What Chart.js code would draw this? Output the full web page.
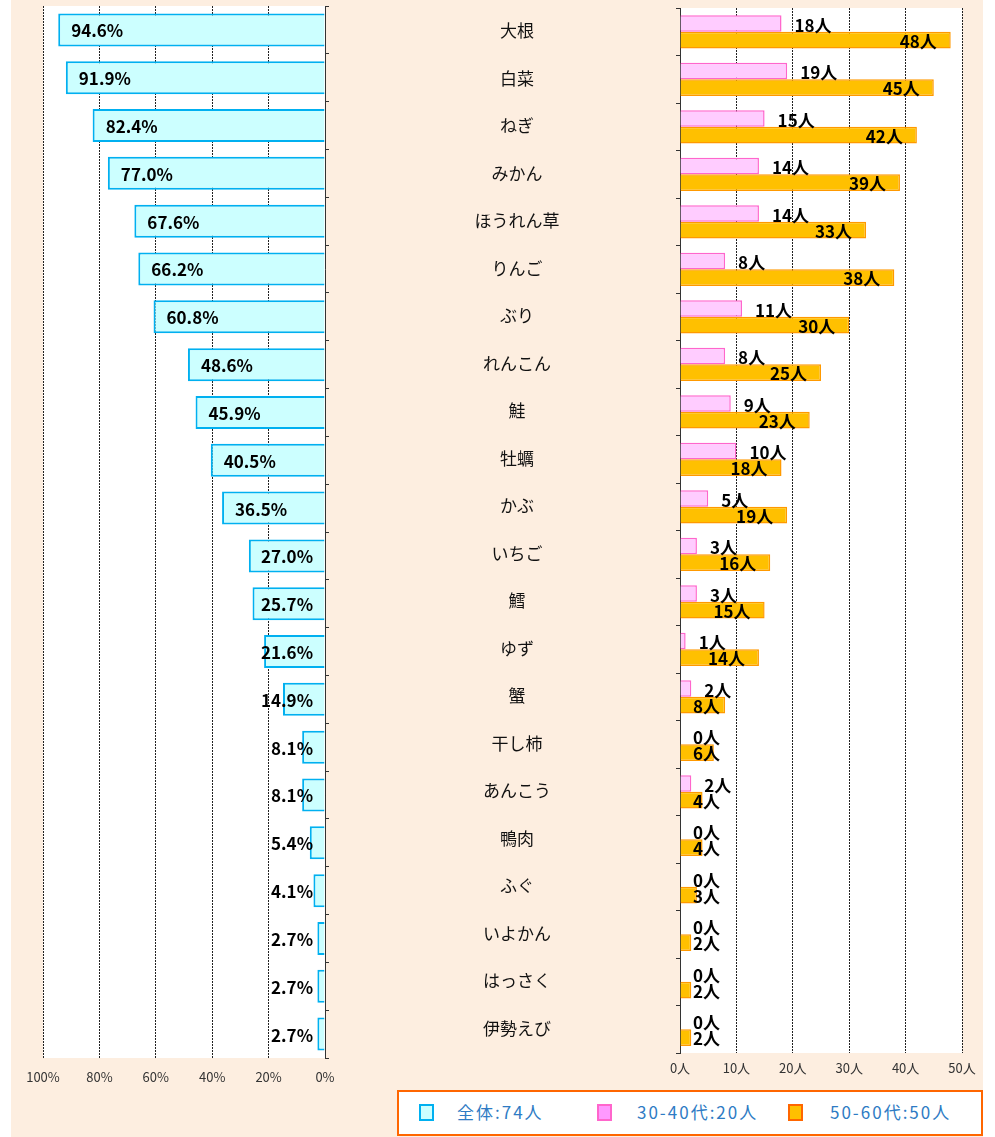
<!DOCTYPE html>
<html>
<head>
<meta charset="utf-8">
<script src="https://cdn.jsdelivr.net/npm/chart.js@4.4.1/dist/chart.umd.min.js"></script>
<style>
  body { margin: 0; background: #fff; font-family: "Noto Sans CJK JP", sans-serif; }
  #panel { position: absolute; left: 11px; top: 0; width: 972px; height: 1137px; background: #FDEEE0; }
  #leftChart { position: absolute; left: 0; top: 0; }
  #rightChart { position: absolute; left: 340px; top: 0; }
  #legend { position: absolute; left: 397px; top: 1090px; width: 582px; height: 42px; background: #fff; border: 2px solid #FF6600; }
  .item { position: absolute; top: 10px; font-size: 17px; letter-spacing: 2px; color: #2E7BC4; line-height: 20px; }
  .box { position: absolute; top: 12px; width: 15px; height: 17px; box-sizing: border-box; border: 2px solid; }
</style>
</head>
<body>
<div id="panel"></div>
<canvas id="leftChart" width="340" height="1100"></canvas>
<canvas id="rightChart" width="655" height="1100"></canvas>
<div id="legend">
  <div class="box" style="left:20px;background:#CCFFFF;border-color:#00B0F0"></div>
  <div class="item" style="left:58px">全体:74人</div>
  <div class="box" style="left:198px;background:#FF99FF;border-color:#FF66CC"></div>
  <div class="item" style="left:238px">30-40代:20人</div>
  <div class="box" style="left:389px;background:#FFC000;border-color:#FF6600"></div>
  <div class="item" style="left:431px">50-60代:50人</div>
</div>
<script>
// 冬が旬の食材
const categories = ['大根', '白菜', 'ねぎ', 'みかん', 'ほうれん草', 'りんご', 'ぶり', 'れんこん', '鮭', '牡蠣', 'かぶ',
    'いちご', '鱈', 'ゆず', '蟹', '干し柿', 'あんこう', '鴨肉', 'ふぐ', 'いよかん', 'はっさく', '伊勢えび'];
const allPct = [94.6, 91.9, 82.4, 77.0, 67.6, 66.2, 60.8, 48.6, 45.9, 40.5, 36.5, 27.0, 25.7, 21.6, 14.9, 8.1, 8.1, 5.4, 4.1, 2.7, 2.7, 2.7];
const age3040 = [18, 19, 15, 14, 14, 8, 11, 8, 9, 10, 5, 3, 3, 1, 2, 0, 2, 0, 0, 0, 0, 0];
const age5060 = [48, 45, 42, 39, 33, 38, 30, 25, 23, 18, 19, 16, 15, 14, 8, 6, 4, 4, 3, 2, 2, 2];
const pctTicks = [0, 20, 40, 60, 80, 100];
const personTicks = [0, 10, 20, 30, 40, 50];

const labelFont = 'bold 17px "Noto Sans CJK JP"';
const tickFont = { family: '"Noto Sans CJK JP"', size: 13 };

// white plot area
const whiteArea = {
    id: 'whiteArea',
    beforeDraw(chart) {
        const a = chart.chartArea;
        const ctx = chart.ctx;
        ctx.save();
        ctx.fillStyle = '#fff';
        ctx.fillRect(a.left, a.top, a.right - a.left, a.bottom - a.top);
        ctx.restore();
    }
};

const leftLabels = {
    id: 'leftLabels',
    afterDatasetsDraw(chart) {
        const ctx = chart.ctx;
        const right = chart.chartArea.right;
        ctx.save();
        ctx.font = labelFont;
        ctx.fillStyle = '#000';
        ctx.textBaseline = 'middle';
        ctx.textAlign = 'left';
        chart.getDatasetMeta(0).data.forEach((bar, i) => {
            const txt = allPct[i].toFixed(1) + '%';
            const w = ctx.measureText(txt).width;
            const x = Math.min(bar.x + 13, right - 12 - w);
            ctx.fillText(txt, x, bar.y + 1);
        });
        ctx.restore();
    }
};

const rightLabels = {
    id: 'rightLabels',
    afterDatasetsDraw(chart) {
        const ctx = chart.ctx;
        const left = chart.chartArea.left;
        ctx.save();
        ctx.font = labelFont;
        ctx.fillStyle = '#000';
        ctx.textBaseline = 'middle';
        ctx.textAlign = 'left';
        chart.getDatasetMeta(0).data.forEach((bar, i) => {
            ctx.fillText(age3040[i] + '人', bar.x + 13, bar.y + 2);
        });
        chart.getDatasetMeta(1).data.forEach((bar, i) => {
            const txt = age5060[i] + '人';
            const w = ctx.measureText(txt).width;
            const r = Math.max(bar.x - 14, left + 13 + w);
            ctx.fillText(txt, r - w, bar.y + 1);
        });
        // category names in the middle column
        const y = chart.scales.y;
        ctx.font = '17px "Noto Sans CJK JP"';
        ctx.textAlign = 'center';
        ctx.fillStyle = '#111';
        categories.forEach((c, i) => {
            ctx.fillText(c, 177, y.getPixelForValue(i) - 1);
        });
        ctx.restore();
    }
};

new Chart(document.getElementById('leftChart'), {
    type: 'bar',
    data: {
        labels: categories,
        datasets: [{
            label: '全体:74人',
            data: allPct,
            backgroundColor: '#CCFFFF',
            borderColor: '#00B0F0',
            borderWidth: 2,
            categoryPercentage: 0.69,
            barPercentage: 1
        }]
    },
    options: {
        indexAxis: 'y',
        responsive: false,
        animation: false,
        devicePixelRatio: 1,
        layout: { padding: { top: 6, left: 43, right: 0, bottom: 0 } },
        plugins: { legend: { display: false }, tooltip: { enabled: false } },
        scales: {
            x: {
                reverse: true,
                min: 0,
                max: 100,
                afterBuildTicks: s => { s.ticks = pctTicks.map(v => ({ value: v })); },
                ticks: { callback: v => v + '%', color: '#333', font: tickFont, padding: 11, maxRotation: 0 },
                grid: { color: '#222', drawTicks: false },
                border: { display: false, dash: [2, 1] },
                afterFit: s => { s.height = 42; }
            },
            y: {
                position: 'right',
                ticks: { display: false },
                grid: { drawOnChartArea: false, tickLength: 4, color: '#333' },
                border: { display: true, color: '#333' },
                afterFit: s => { s.width = 15; }
            }
        }
    },
    plugins: [whiteArea, leftLabels]
});

new Chart(document.getElementById('rightChart'), {
    type: 'bar',
    data: {
        labels: categories,
        datasets: [{
            label: '30-40代:20人',
            data: age3040,
            backgroundColor: '#FFCCFF',
            borderColor: '#FF66CC',
            borderWidth: 1.5,
            categoryPercentage: 0.7,
            barPercentage: 1
        }, {
            label: '50-60代:50人',
            data: age5060,
            backgroundColor: '#FFC000',
            borderColor: '#FF9900',
            borderWidth: 1.5,
            categoryPercentage: 0.7,
            barPercentage: 1
        }]
    },
    options: {
        indexAxis: 'y',
        responsive: false,
        animation: false,
        devicePixelRatio: 1,
        layout: { padding: { top: 8, left: 0, right: 33, bottom: 0 } },
        plugins: { legend: { display: false }, tooltip: { enabled: false } },
        scales: {
            x: {
                min: 0,
                max: 50,
                afterBuildTicks: s => { s.ticks = personTicks.map(v => ({ value: v })); },
                ticks: { callback: v => v + '人', color: '#333', font: tickFont, padding: 7, maxRotation: 0 },
                grid: { color: '#222', drawTicks: false },
                border: { display: false, dash: [2, 1] },
                afterFit: s => { s.height = 47; }
            },
            y: {
                position: 'left',
                ticks: { display: false },
                grid: { drawOnChartArea: false, tickLength: 4, color: '#333' },
                border: { display: true, color: '#333' },
                afterFit: s => { s.width = 340; }
            }
        }
    },
    plugins: [whiteArea, rightLabels]
});
</script>
</body>
</html>
